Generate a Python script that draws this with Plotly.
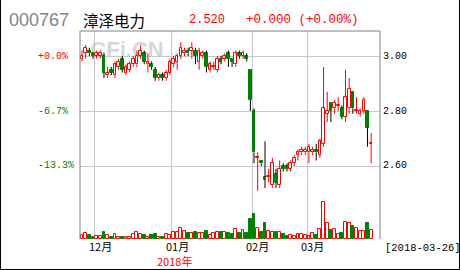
import plotly.graph_objects as go

# ---------------- data ----------------
open_ = [2.99, 3.01, 3.02, 3.01, 3.00, 3.00, 3.00, 2.93, 2.95, 2.93,
         2.96, 2.99, 2.94, 2.95, 2.97, 2.97, 3.00, 3.01, 2.97, 2.97,
         2.95, 2.92, 2.93, 2.92, 2.94, 2.97, 2.98, 3.00, 3.01, 3.02,
         3.02, 3.02, 2.98, 3.00, 3.01, 2.95, 2.96, 2.95, 2.99, 2.99,
         3.01, 2.99, 2.97, 3.01, 3.00, 3.00, 2.95, 2.80, 2.63, 2.62,
         2.56, 2.56, 2.53, 2.57, 2.53, 2.60, 2.60, 2.59, 2.61, 2.64,
         2.65, 2.65, 2.65, 2.65, 2.66, 2.64, 2.68, 2.79, 2.83, 2.81,
         2.82, 2.81, 2.78, 2.81, 2.87, 2.80, 2.79, 2.80, 2.80, 2.68]
high = [3.02, 3.04, 3.03, 3.01, 3.02, 3.02, 3.01, 2.96, 2.96, 2.98,
        2.99, 3.00, 2.97, 2.98, 3.00, 3.02, 3.04, 3.02, 3.01, 2.98,
        2.96, 2.94, 2.94, 2.95, 2.99, 3.00, 3.01, 3.05, 3.03, 3.03,
        3.05, 3.03, 3.03, 3.02, 3.02, 2.98, 2.98, 3.00, 3.00, 3.01,
        3.02, 2.99, 3.02, 3.02, 3.02, 3.01, 2.95, 2.81, 2.65, 2.62,
        2.69, 2.59, 2.63, 2.59, 2.62, 2.61, 2.61, 2.62, 2.64, 2.66,
        2.67, 2.67, 2.68, 2.67, 2.68, 2.70, 2.96, 2.87, 2.83, 2.84,
        2.85, 2.82, 2.95, 2.92, 2.87, 2.85, 2.81, 2.85, 2.80, 2.72]
low = [2.98, 2.99, 3.00, 2.99, 2.99, 2.99, 2.92, 2.92, 2.93, 2.92,
       2.95, 2.94, 2.93, 2.94, 2.96, 2.96, 2.99, 2.97, 2.94, 2.95,
       2.91, 2.91, 2.91, 2.91, 2.93, 2.96, 2.95, 2.99, 3.00, 3.00,
       2.99, 2.97, 2.95, 2.99, 2.94, 2.94, 2.95, 2.94, 2.97, 2.98,
       2.96, 2.96, 2.96, 2.99, 2.99, 2.98, 2.80, 2.61, 2.51, 2.60,
       2.52, 2.54, 2.52, 2.52, 2.52, 2.58, 2.58, 2.58, 2.60, 2.62,
       2.64, 2.64, 2.61, 2.64, 2.62, 2.63, 2.67, 2.76, 2.76, 2.79,
       2.80, 2.77, 2.76, 2.79, 2.79, 2.79, 2.78, 2.79, 2.67, 2.61]
close = [3.00, 3.03, 3.01, 3.00, 3.01, 3.01, 2.94, 2.94, 2.94, 2.97,
         2.98, 2.95, 2.96, 2.97, 2.99, 3.00, 3.02, 2.98, 2.98, 2.96,
         2.92, 2.93, 2.92, 2.94, 2.98, 2.99, 3.00, 3.03, 3.02, 3.01,
         3.03, 3.00, 3.02, 3.01, 2.96, 2.97, 2.96, 2.99, 2.98, 3.00,
         2.99, 2.98, 3.01, 3.00, 3.01, 2.99, 2.84, 2.65, 2.63, 2.61,
         2.55, 2.56, 2.61, 2.54, 2.59, 2.59, 2.59, 2.61, 2.63, 2.65,
         2.66, 2.66, 2.67, 2.66, 2.65, 2.69, 2.81, 2.80, 2.80, 2.83,
         2.82, 2.78, 2.85, 2.88, 2.81, 2.80, 2.80, 2.84, 2.74, 2.68]
volume = [42, 62, 42, 25, 35, 35, 75, 42, 25, 52,
          25, 25, 25, 25, 52, 75, 52, 45, 25, 45,
          52, 25, 25, 52, 42, 68, 68, 112, 85, 58,
          58, 68, 58, 58, 85, 45, 62, 68, 68, 68,
          58, 52, 102, 62, 92, 62, 202, 252, 112, 75,
          162, 85, 75, 75, 68, 52, 28, 45, 35, 52,
          52, 42, 35, 62, 45, 102, 375, 162, 92, 102,
          52, 58, 168, 162, 135, 112, 78, 78, 162, 92]

month_labels = ["12月", "01月", "02月", "03月"]
month_start = [4, 25, 47, 62]
year_label = "2018年"
date_label = "[2018-03-26]"
price_ticks = [3.00, 2.80, 2.60]
price_labels = ["3.00", "2.80", "2.60"]
pct_labels = ["+0.0%", "-6.7%", "-13.3%"]
code, name, last, change = "000767", "漳泽电力", "2.520", "+0.000 (+0.00%)"

RED, GREEN, BLACK = "#ff0000", "#008000", "#000000"
GRID, FRAME = "#c8c8c8", "#808080"
MONO = "Liberation Mono, DejaVu Sans Mono, monospace"
CJK = "Noto Sans CJK SC, Noto Sans, sans-serif"

# ---------------- geometry helpers (pixel -> paper) ----------------
PL, PR, PT, PB = 80, 380, 31, 239
W, H = 460, 270
def px(x):
    return (x - PL) / (PR - PL)
def py(y):
    return (PB - y) / (PB - PT)

x = list(range(len(close)))
up = [i for i in x if close[i] >= open_[i]]
dn = [i for i in x if close[i] < open_[i]]

def wicks(idx):
    xs, ys = [], []
    for i in idx:
        top, bot = max(open_[i], close[i]), min(open_[i], close[i])
        if high[i] > top:
            xs += [i, i, None]; ys += [top, high[i], None]
        if low[i] < bot:
            xs += [i, i, None]; ys += [bot, low[i], None]
    return xs, ys

fig = go.Figure()
BW = 0.72
# bodies
fig.add_trace(go.Bar(x=up, base=[open_[i] for i in up],
                     y=[max(close[i] - open_[i], 0.002) for i in up],
                     width=BW, marker=dict(color="white", line=dict(color=RED, width=1)),
                     hoverinfo="skip"))
fig.add_trace(go.Bar(x=dn, base=[close[i] for i in dn],
                     y=[open_[i] - close[i] for i in dn],
                     width=BW, marker=dict(color=GREEN, line=dict(color=GREEN, width=1)),
                     hoverinfo="skip"))
# volume
fig.add_trace(go.Bar(x=up, y=[volume[i] for i in up], yaxis="y2", width=0.78,
                     marker=dict(color="white", line=dict(color=RED, width=1)), hoverinfo="skip"))
fig.add_trace(go.Bar(x=dn, y=[volume[i] for i in dn], yaxis="y2", width=0.78,
                     marker=dict(color=GREEN, line=dict(color=GREEN, width=1)), hoverinfo="skip"))
# wicks
wx, wy = wicks(up)
fig.add_trace(go.Scatter(x=wx, y=wy, mode="lines", line=dict(color=RED, width=1), hoverinfo="skip"))
wx, wy = wicks(dn)
fig.add_trace(go.Scatter(x=wx, y=wy, mode="lines", line=dict(color=BLACK, width=1), hoverinfo="skip"))

price_top = 3.00 + (56 - PT) * 0.2 / 55
price_bot = 3.00 - (PB - 56) * 0.2 / 55
vol_top = max(volume) * (PB - PT) / (PB - 201.5)

fig.update_layout(
    width=W, height=H, margin=dict(l=PL, r=W - PR, t=PT, b=H - PB, pad=0),
    paper_bgcolor="white", plot_bgcolor="white", showlegend=False,
    barmode="overlay", bargap=0,
    xaxis=dict(range=[-0.55, 81.42], tickvals=[s - 0.5 for s in month_start],
               showticklabels=False, ticks="", showgrid=True, gridcolor=GRID, gridwidth=1,
               zeroline=False, showline=False, fixedrange=True),
    yaxis=dict(range=[price_bot, price_top], tickvals=price_ticks, showticklabels=False,
               ticks="", showgrid=True, gridcolor=GRID, gridwidth=1, zeroline=False,
               showline=False, fixedrange=True),
    yaxis2=dict(range=[0, vol_top], overlaying="y", visible=False, fixedrange=True),
)

shapes = []
# watermark behind the candles
shapes.append(dict(type="rect", xref="paper", yref="paper", x0=px(86), x1=px(168),
                   y0=py(57), y1=py(38), line=dict(width=0), fillcolor="rgba(0,0,0,0)",
                   layer="below",
                   label=dict(text="CFi.CN", textposition="middle center",
                              font=dict(family="Liberation Sans, Arial", size=22,
                                        color="#d6d6d6", weight="bold"))))
# plot frame (left, top, right)
for (x0, y0, x1, y1) in [(0, 0, 0, 1), (0, 1, 1, 1), (1, 0, 1, 1)]:
    shapes.append(dict(type="line", xref="paper", yref="paper", x0=x0, y0=y0, x1=x1, y1=y1,
                       line=dict(color=FRAME, width=1)))
# outer image border (left, right, bottom)
for (a, b, c, d) in [(0, 0, 0, H), (W, 0, W, H), (0, H, W, H)]:
    shapes.append(dict(type="line", xref="paper", yref="paper", x0=px(a), y0=py(b),
                       x1=px(c), y1=py(d), line=dict(color=BLACK, width=2)))
fig.update_layout(shapes=shapes)

ann = []
def text(t, xpix, ypix, size, color, family, anchor="left"):
    ann.append(dict(text=t, xref="paper", yref="paper", x=px(xpix), y=py(ypix),
                    xanchor=anchor, yanchor="middle", showarrow=False,
                    font=dict(size=size, color=color, family=family)))

# header
text(code, 7, 20, 18, "#7b8590", "Liberation Sans, Arial")
text(name, 81, 20, 15.5, BLACK, CJK)
text(last, 187, 20, 12, RED, MONO)
text(change, 244, 20, 12.5, RED, MONO)

# axis labels
for v, pl, lab in zip(price_ticks, pct_labels, price_labels):
    ypix = 56 + (3.00 - v) * 275
    col = RED if pl.startswith("+") else GREEN
    text(pl, 36, ypix, 10, col, MONO)
    text(lab, 381, ypix, 10, BLACK, MONO)

for s, lab in zip(month_start, month_labels):
    ann.append(dict(text=lab, xref="x", yref="paper", x=s + 1.0, y=py(245.5),
                    xanchor="center", yanchor="middle", showarrow=False,
                    font=dict(size=11, color=BLACK, family=CJK)))
ann.append(dict(text=year_label, xref="x", yref="paper", x=month_start[1] + 0.3, y=py(261),
                xanchor="center", yanchor="middle", showarrow=False,
                font=dict(size=11, color=RED, family=CJK)))
text(date_label, 383, 248, 10.5, BLACK, MONO)

fig.update_layout(annotations=ann)
fig.write_html("out.html")
